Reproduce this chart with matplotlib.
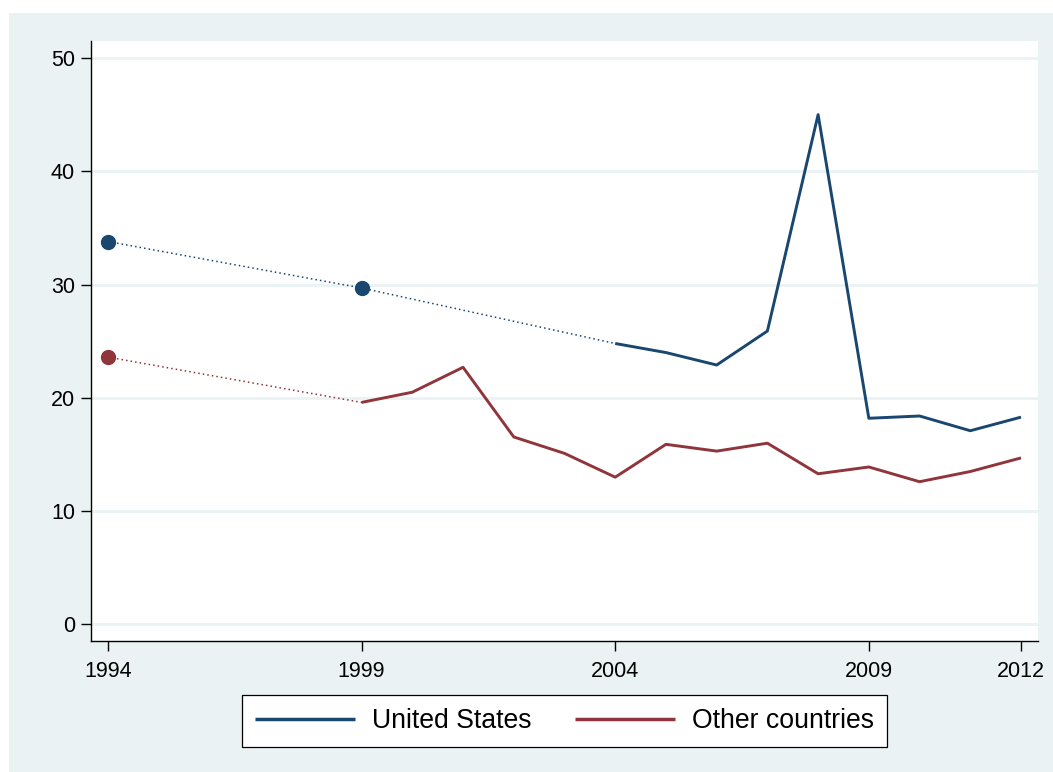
import numpy as np
import matplotlib
matplotlib.use("Agg")
import matplotlib.pyplot as plt
from matplotlib.patches import Rectangle

plt.rcParams['font.family'] = ['Liberation Sans', 'DejaVu Sans']

years = np.arange(1994, 2013)
nan = np.nan
us = np.array([33.8, nan, nan, nan, nan, 29.7, nan, nan, nan, nan,
               24.8, 24.0, 22.9, 25.9, 45.0, 18.2, 18.4, 17.1, 18.3])
other = np.array([23.6, nan, nan, nan, nan, 19.6, 20.5, 22.7, 16.55, 15.1,
                  13.0, 15.9, 15.3, 16.0, 13.3, 13.9, 12.6, 13.5, 14.7])
series = [("United States", us, "#1A476F"), ("Other countries", other, "#90353B")]
xticks = [1994, 1999, 2004, 2009, 2012]
yticks = [0, 10, 20, 30, 40, 50]

W, H = 1053, 772
fig = plt.figure(figsize=(W / 100, H / 100), dpi=100, facecolor="white")
fig.patches.append(Rectangle((9 / W, 0), 1 - 9 / W, 1 - 13 / H, transform=fig.transFigure,
                             facecolor="#EAF2F3", edgecolor="none", zorder=-10))

ax = fig.add_axes([91 / W, 1 - 641 / H, (1038 - 91) / W, (641 - 41) / H])
ax.set_zorder(1)
ax.set_facecolor("white")

for label, vals, col in series:
    ok = ~np.isnan(vals)
    # dotted connection across gaps
    ax.plot(years[ok], vals[ok], linestyle=(0, (1, 2)), color=col, lw=1.1, zorder=2)
    # solid for consecutive years
    ax.plot(years, vals, color=col, lw=2.1, zorder=3, label=label, solid_capstyle="butt")
    # markers for isolated observations
    prev = np.concatenate([[False], ok[:-1]])
    nxt = np.concatenate([ok[1:], [False]])
    iso = ok & ~prev & ~nxt
    ax.plot(years[iso], vals[iso], 'o', color=col, markersize=10, zorder=4)

ax.set_xlim(1993.665, 2012.335)
ax.set_ylim(-1.46, 51.5)
ax.set_xticks(xticks)
ax.set_yticks(yticks)
ax.yaxis.grid(True, color="#EAF2F3", lw=2)
ax.set_axisbelow(True)
for s in ["top", "right"]:
    ax.spines[s].set_visible(False)
for s in ["left", "bottom"]:
    ax.spines[s].set_color("black")
    ax.spines[s].set_linewidth(1.0)
ax.tick_params(axis="x", length=7.5, width=1, pad=7, labelsize=15.5, colors="black")
ax.tick_params(axis="y", length=7.5, width=1, pad=4, labelsize=15.5, colors="black")

leg = ax.legend(loc="center", bbox_to_anchor=(564.5 / W, 1 - 721 / H),
                bbox_transform=fig.transFigure, ncol=2, fontsize=19.2,
                frameon=True, fancybox=False, edgecolor="black", facecolor="white",
                framealpha=1, handlelength=3.75, handletextpad=0.63,
                columnspacing=1.65, borderpad=0.5)
leg.get_frame().set_linewidth(0.9)
for h in leg.get_lines():
    h.set_linewidth(2.5)

fig.savefig("out.png", dpi=100, facecolor=fig.get_facecolor())
